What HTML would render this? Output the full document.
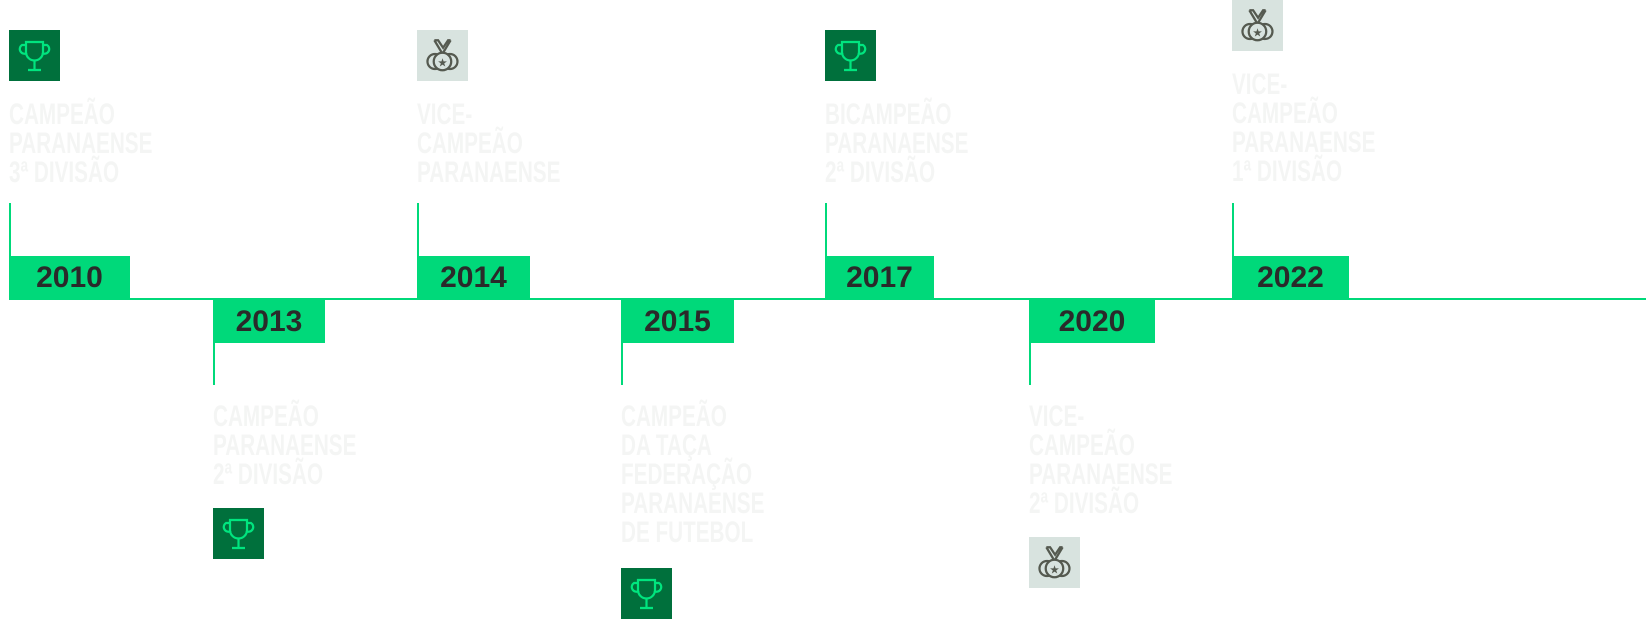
<!DOCTYPE html>
<html><head><meta charset="utf-8"><style>
body{margin:0;width:1646px;height:628px;background:#fff;position:relative;overflow:hidden;font-family:"Liberation Sans",sans-serif}
.a{position:absolute}
.axis{left:9px;top:298px;width:1637px;height:2px;background:#00d97a}
.v{position:absolute;width:2px;background:#00d97a}
.yr{position:absolute;height:43px;background:#00d97a;color:#2a2a2a;font-weight:bold;font-size:30px;line-height:44px;text-align:center;letter-spacing:0px}
.yr span{display:inline-block}
.ic{position:absolute;width:51px;height:51px}
.g{background:#00703c}.m{background:#d8e3df}
.t{position:absolute;color:#f4f5f4;font-weight:bold;font-size:30px;line-height:29px;transform:scaleX(.69);transform-origin:left top;white-space:nowrap}
</style></head><body>
<div class="a axis"></div>

<svg width="0" height="0" style="position:absolute"><defs>
<g id="tr" fill="none" stroke="#00e57f" stroke-width="2.2"><path d="M17 12h17v10a8.5 8.5 0 0 1-17 0z"/><path d="M17 15h-4a4 4 0 0 0 5 8M34 15h4a4 4 0 0 1-5 8"/><path d="M25.5 30.5v9M19 40h13"/></g>
<g id="md" fill="none" stroke="#555a50" stroke-width="1.8" transform="translate(-6.4 -6) scale(1.25)"><path d="M19 13l6 10M32 13l-6 10M19 13h3l4 6 4-6h2"/><circle cx="19.5" cy="30" r="6"/><circle cx="31.5" cy="30" r="6"/><circle cx="25.5" cy="30" r="7" fill="#d8e3df"/><text x="25.5" y="34" font-size="9" text-anchor="middle" fill="#555a50" stroke="none">★</text></g>
</defs></svg>

<!-- 2010 -->
<div class="ic g" style="left:9px;top:30px"><svg width="51" height="51"><use href="#tr"/></svg></div>
<div class="t" style="left:9px;top:100px">CAMPEÃO<br>PARANAENSE<br>3ª DIVISÃO</div>
<div class="v" style="left:9px;top:203px;height:96px"></div>
<div class="yr" style="left:9px;top:256px;width:121px"><span>2010</span></div>

<!-- 2013 -->
<div class="yr" style="left:213px;top:300px;width:112px"><span>2013</span></div>
<div class="v" style="left:213px;top:300px;height:85px"></div>
<div class="t" style="left:213px;top:402px">CAMPEÃO<br>PARANAENSE<br>2ª DIVISÃO</div>
<div class="ic g" style="left:213px;top:508px"><svg width="51" height="51"><use href="#tr"/></svg></div>

<!-- 2014 -->
<div class="ic m" style="left:417px;top:30px"><svg width="51" height="51"><use href="#md"/></svg></div>
<div class="t" style="left:417px;top:100px">VICE-<br>CAMPEÃO<br>PARANAENSE</div>
<div class="v" style="left:417px;top:203px;height:96px"></div>
<div class="yr" style="left:417px;top:256px;width:113px"><span>2014</span></div>

<!-- 2015 -->
<div class="yr" style="left:621px;top:300px;width:113px"><span>2015</span></div>
<div class="v" style="left:621px;top:300px;height:85px"></div>
<div class="t" style="left:621px;top:402px">CAMPEÃO<br>DA TAÇA<br>FEDERAÇÃO<br>PARANAENSE<br>DE FUTEBOL</div>
<div class="ic g" style="left:621px;top:568px"><svg width="51" height="51"><use href="#tr"/></svg></div>

<!-- 2017 -->
<div class="ic g" style="left:825px;top:30px"><svg width="51" height="51"><use href="#tr"/></svg></div>
<div class="t" style="left:825px;top:100px">BICAMPEÃO<br>PARANAENSE<br>2ª DIVISÃO</div>
<div class="v" style="left:825px;top:203px;height:96px"></div>
<div class="yr" style="left:825px;top:256px;width:109px"><span>2017</span></div>

<!-- 2020 -->
<div class="yr" style="left:1029px;top:300px;width:126px"><span>2020</span></div>
<div class="v" style="left:1029px;top:300px;height:85px"></div>
<div class="t" style="left:1029px;top:402px">VICE-<br>CAMPEÃO<br>PARANAENSE<br>2ª DIVISÃO</div>
<div class="ic m" style="left:1029px;top:537px"><svg width="51" height="51"><use href="#md"/></svg></div>

<!-- 2022 -->
<div class="ic m" style="left:1232px;top:0px"><svg width="51" height="51"><use href="#md"/></svg></div>
<div class="t" style="left:1232px;top:70px">VICE-<br>CAMPEÃO<br>PARANAENSE<br>1ª DIVISÃO</div>
<div class="v" style="left:1232px;top:203px;height:96px"></div>
<div class="yr" style="left:1232px;top:256px;width:117px"><span>2022</span></div>
</body></html>
